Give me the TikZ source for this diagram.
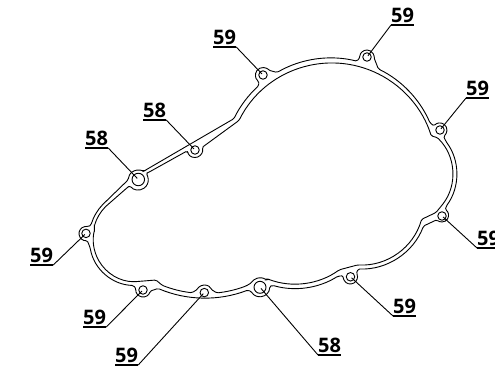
\documentclass[tikz,border=0pt]{standalone}
\usepackage{fontspec}
\setmainfont{Open Sans}
\newcommand{\arcpart}[5]{-- ({#1+#3*cos(#4)},{#2+#3*sin(#4)}) arc[start angle=#4, end angle=#5, radius=#3]}
\begin{document}
\begin{tikzpicture}[x=1pt,y=-1pt]
	\useasboundingbox (0,0) rectangle (495,366);
	\begin{scope}[line width=0.9pt, rounded corners=1.5pt]
		\draw (144,171)
			\arcpart{331}{166}{108}{206}{228}
			\arcpart{263}{75}{7.5}{125}{320}
			\arcpart{331}{166}{108}{240}{284}
			\arcpart{367}{57}{7}{180}{365}
			\arcpart{331}{166}{108}{296}{336.5}
			\arcpart{440}{130}{7}{215}{420}
			\arcpart{402}{174}{54.7}{-36.6}{36}
			\arcpart{442}{215.5}{6.5}{-60}{140}
			\arcpart{361}{202}{67}{21}{92.5}
			\arcpart{350.3}{277}{7}{-30}{190}
			\arcpart{295}{207.5}{81}{58}{106}
			\arcpart{260}{287.3}{9.5}{-5}{150}
			\arcpart{205}{178}{120}{69}{113}
			\arcpart{143}{290}{7}{10}{190}
			\arcpart{135}{240}{45.5}{92}{170}
			\arcpart{86}{233.5}{7}{80}{290}
			\arcpart{139}{239}{50}{196.5}{225}
			-- (128,180)
			\arcpart{138.3}{180}{10}{200}{300}
			-- cycle;
		\draw (148,172.7)
			-- (187,151)
			\arcpart{195}{150}{7.5}{160}{-20}
			\arcpart{332}{167}{104}{206.6}{342.6}
			\arcpart{402}{174}{50.7}{-46}{38}
			-- (436,212.5)
			\arcpart{361}{202}{63}{16}{93}
			\arcpart{295}{207.5}{76.5}{54.5}{111}
			\arcpart{260}{287.3}{9.5}{-50}{-150}
			\arcpart{205}{178}{115.5}{69}{84.2}
			\arcpart{204.3}{292.5}{7.5}{-25}{-155}
			\arcpart{205}{178}{115.5}{96.5}{111.8}
			-- (156,280)
			\arcpart{135}{240}{41.7}{90}{195}
			\arcpart{139}{239}{46.5}{195}{225}
			-- (128,187)
			\arcpart{138.3}{180}{10}{145}{-40}
			-- cycle;
	\end{scope}
	\begin{scope}[every node/.style={draw=black, circle, line width=0.9pt, inner sep=0pt, minimum size=8.5pt}]
		\node (h1) at (86,233.4) {};
		\node (h2) at (143,290) {};
		\node (h3) at (204.3,292.6) {};
		\node (h4) at (350.5,276.8) {};
		\node (h5) at (442,216) {};
		\node (h6) at (440,130) {};
		\node (h7) at (367,57) {};
		\node (h8) at (263,75) {};
		\node (h9) at (195,150) {};
		\node[minimum size=12.5pt] (h10) at (138.3,179.5) {};
		\node[minimum size=12pt] (h11) at (260,287.3) {};
	\end{scope}
	\begin{scope}[every node/.style={anchor=south west, font=\bfseries\fontsize{20}{20}\selectfont, inner xsep=0pt, inner ysep=2.5pt, text depth=0pt}]
		\node (l1) at (30,265) {59};
		\node (l2) at (83,327) {59};
		\node (l3) at (115,365) {59};
		\node (l4) at (393,316) {59};
		\node (l5) at (477,248) {59};
		\node (l6) at (466,98) {59};
		\node (l7) at (391,25) {59};
		\node (l8) at (213,47) {59};
		\node (l9) at (143,120) {58};
		\node (l10) at (85,148) {58};
		\node (l11) at (318,355) {58};
	\end{scope}
	\begin{scope}[every edge/.style={draw=black, line width=1.2pt}]
		\path (l1.south west) edge (l1.south east);
		\path (l2.south west) edge (l2.south east);
		\path (l3.south west) edge (l3.south east);
		\path (l4.south west) edge (l4.south east);
		\path (l5.south west) edge (l5.south east);
		\path (l6.south west) edge (l6.south east);
		\path (l7.south west) edge (l7.south east);
		\path (l8.south west) edge (l8.south east);
		\path (l9.south west) edge (l9.south east);
		\path (l10.south west) edge (l10.south east);
		\path (l11.south west) edge (l11.south east);
	\end{scope}
	\begin{scope}[every edge/.style={draw=black, line width=0.9pt, shorten >=1.5pt}]
		\path (l1.south east) edge (h1.center);
		\path (l2.south east) edge (h2.center);
		\path (l3.south east) edge (h3.center);
		\path (l4.south west) edge (h4.center);
		\path (l5.south west) edge (h5.center);
		\path (l6.south west) edge (h6.center);
		\path (l7.south west) edge (h7.center);
		\path (l8.south east) edge (h8.center);
		\path (l9.south east) edge (h9.center);
		\path (l10.south east) edge (h10.center);
		\path (l11.south west) edge (h11.center);
	\end{scope}
\end{tikzpicture}
\end{document}
